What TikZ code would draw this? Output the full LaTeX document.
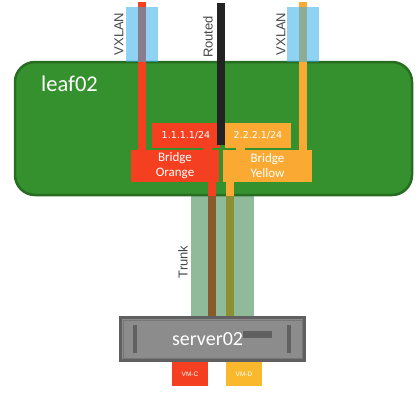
\documentclass[tikz,border=0pt]{standalone}
\usepackage{fontspec}
\setmainfont{Carlito}
\newfontfamily\tagfont{Liberation Sans}
\newfontfamily\ipfont{DejaVu Sans}
\usepackage{tikz}
\usetikzlibrary{positioning}
\usetikzlibrary{calc}

\definecolor{leafgreen}{RGB}{53,145,46}
\definecolor{leafedge}{RGB}{40,108,33}
\definecolor{orangeC}{RGB}{244,64,32}
\definecolor{yellowC}{RGB}{250,170,50}
\definecolor{vmyellow}{RGB}{250,185,45}
\definecolor{routedC}{RGB}{35,35,35}
\definecolor{vxlanblue}{RGB}{50,175,235}
\definecolor{trunkgreen}{RGB}{31,119,53}
\definecolor{serverdark}{RGB}{96,96,96}
\definecolor{servergrey}{RGB}{140,140,140}
\definecolor{serverline}{RGB}{118,118,118}

\begin{document}
\begin{tikzpicture}
	[x=1pt,y=-1pt,
	 bridgebox/.style={inner sep=0pt, minimum width=88pt, minimum height=32pt, text=white, align=center, font=\fontsize{13}{15}\selectfont},
	 ipbox/.style={inner sep=0pt, minimum height=25pt, text=white, font=\ipfont\fontsize{9.5}{11}\selectfont},
	 vmbox/.style={inner sep=0pt, minimum width=36pt, minimum height=24pt, text=white, font=\tagfont\fontsize{6.5}{7}\selectfont},
	 tag/.style={rotate=90, inner sep=0pt, text=black!72, font=\tagfont\fontsize{13}{15}\selectfont},
	 wire/.style={line width=8pt},
	 server/.style={draw=serverdark, line width=3pt, fill=servergrey, minimum width=184pt, minimum height=43pt, text=white, font=\fontsize{20}{24}\selectfont}]
	\useasboundingbox (0,0) rectangle (419,397);

	% switch
	\draw[leafedge, fill=leafgreen, line width=2.5pt, rounded corners=20pt] (15,62) rectangle (412,195);
	\node[anchor=west, inner sep=0pt, text=white, font=\fontsize{22.5}{26}\selectfont] (leaf) at (41,84) {leaf02};

	% bridges and addresses
	\node[bridgebox, fill=orangeC] (brOrange) at (175,166) {Bridge\\Orange};
	\node[bridgebox, fill=yellowC, minimum width=89pt] (brYellow) at (267.5,166) {Bridge\\Yellow};
	\node[ipbox, fill=orangeC, minimum width=68pt] (ipOrange) at (186,135.5) {1.1.1.1/24};
	\node[ipbox, fill=yellowC, minimum width=66pt] (ipYellow) at (258,135.5) {2.2.2.1/24};
	\draw[line width=9pt, orangeC] ([xshift=21pt]ipOrange.south) -- ([xshift=21pt]ipOrange.south |- brOrange.north);
	\draw[line width=9pt, yellowC] ([xshift=-18pt]ipYellow.south) -- ([xshift=-18pt]ipYellow.south |- brYellow.north);

	% uplinks
	\coordinate (vxOrange) at (142,2);
	\coordinate (vxYellow) at (303,2);
	\coordinate (routedTop) at (221,3);
	\coordinate (routedEnd) at (221,145);
	\draw[wire, orangeC] (vxOrange) -- (vxOrange |- brOrange.north);
	\draw[wire, yellowC] (vxYellow) -- (vxYellow |- brYellow.north);
	\draw[wire, routedC] (routedTop) -- (routedEnd);
	\fill[vxlanblue, opacity=0.55] (126,7) rectangle (158,62);
	\fill[vxlanblue, opacity=0.55] (287,7) rectangle (319,62);
	\node[tag] (vxlanL) at (119,34) {VXLAN};
	\node[tag] (vxlanR) at (281,34) {VXLAN};
	\node[tag] (routed) at (208,37) {Routed};

	% server
	\node[server] (server) at (212.5,339) {};
	\draw[serverline] ([shift={(4,4)}]server.north west) rectangle ([shift={(-4,-4)}]server.south east);
	\fill[serverdark] (133,325) rectangle (137,353);
	\fill[serverdark] (287,325) rectangle (291,353);
	\fill[serverdark] (243,331) rectangle (272,338);
	\node[text=white, inner sep=0pt, font=\fontsize{20}{24}\selectfont] (srvName) at (207.5,339) {server02};

	% trunk down to the server
	\coordinate (trunkO) at (212,0);
	\coordinate (trunkY) at (230,0);
	\coordinate (trunkL) at (191,196);
	\coordinate (trunkR) at (254,0);
	\draw[wire, orangeC] (brOrange.south -| trunkO) -- (server.north -| trunkO);
	\draw[wire, yellowC] (brYellow.south -| trunkY) -- (server.north -| trunkY);
	\fill[trunkgreen, opacity=0.5] (trunkL) rectangle (server.north -| trunkR);
	\node[tag] (trunk) at (183,262) {Trunk};

	% virtual machines
	\node[vmbox, fill=orangeC] (vmC) at (190,374) {VM-C};
	\node[vmbox, fill=vmyellow] (vmD) at (244,374) {VM-D};
\end{tikzpicture}
\end{document}
